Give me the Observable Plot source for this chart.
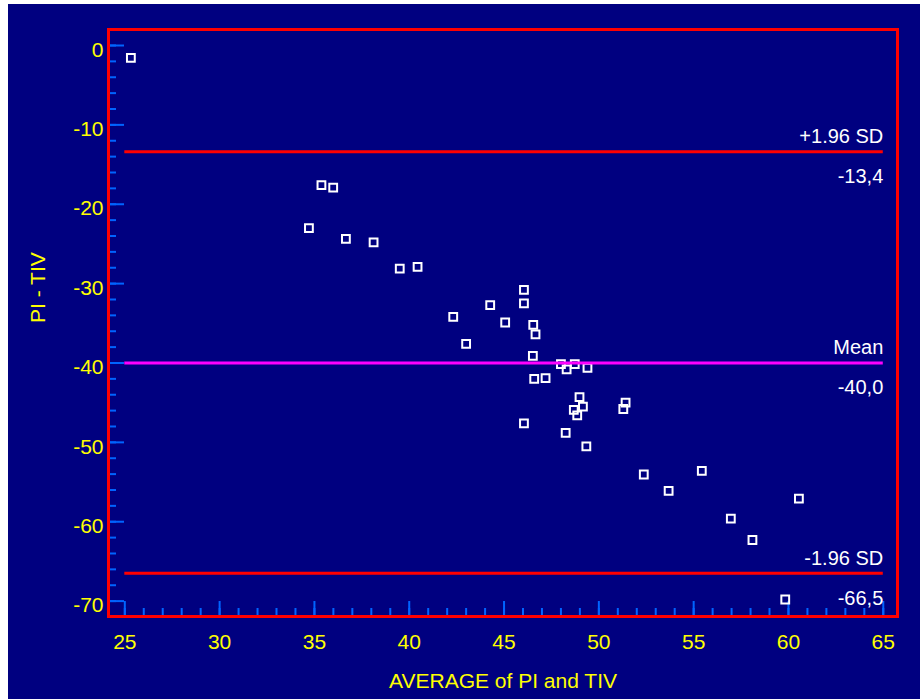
<!DOCTYPE html>
<html>
<head>
<meta charset="utf-8">
<script src="https://cdn.jsdelivr.net/npm/d3@7"></script>
<script src="https://cdn.jsdelivr.net/npm/@observablehq/plot@0.6"></script>
<style>
  html, body { margin: 0; padding: 0; background: #ffffff; }
  #chart { position: absolute; left: 8px; top: 4px; }
</style>
</head>
<body>
<div id="chart"></div>
<script>
// ---- data ----
const avg  = [25.32, 35.37, 35.99, 34.71, 36.66, 38.12, 39.5, 40.44, 46.05, 46.05,
              44.27, 42.32, 45.06, 46.54, 46.66, 43.0, 46.52, 48.0, 48.73, 48.3,
              49.4, 46.59, 47.19, 48.98, 49.16, 48.68, 48.86, 51.41, 51.29, 46.05,
              48.25, 49.34, 52.37, 53.68, 55.43, 56.96, 58.1, 60.55, 59.83];
const diff = [-1.55, -17.6, -17.9, -23.0, -24.36, -24.8, -28.1, -27.9, -30.8, -32.5,
              -32.7, -34.2, -34.9, -35.2, -36.4, -37.6, -39.1, -40.15, -40.15, -40.8,
              -40.6, -42.0, -41.9, -44.3, -45.5, -45.9, -46.6, -45.0, -45.8, -47.6,
              -48.8, -50.5, -54.05, -56.1, -53.6, -59.6, -62.3, -57.1, -69.8];
const lineValues = [-13.4, -40.0, -66.5];
const lineNames  = ["+1.96 SD", "Mean", "-1.96 SD"];
const lineLabels = ["-13,4", "-40,0", "-66,5"];
const xTickLabels = [25, 30, 35, 40, 45, 50, 55, 60, 65];
const yTickLabels = [0, -10, -20, -30, -40, -50, -60, -70];
const xTitle = "AVERAGE of PI and TIV";
const yTitle = "PI - TIV";

// ---- styling ----
const NAVY = "#000080", RED = "#ff0000", MAGENTA = "#ff00ff", BLUE = "#0064ff", YELLOW = "#ffff00";
const lineColors = [RED, MAGENTA, RED];
const W = 912, H = 695, mL = 100, mR = 23, mT = 25, mB = 83;
const FW = W - mL - mR, FH = H - mT - mB;

const points = avg.map((a, i) => ({a, d: diff[i]}));
const lines = lineValues.map((v, i) => ({v, name: lineNames[i], label: lineLabels[i], color: lineColors[i]}));
const xMinor = d3.range(25, 66, 1);
const yMinor = d3.range(0, -71, -2);

const chart = Plot.plot({
  width: W, height: H,
  marginLeft: mL, marginRight: mR, marginTop: mT, marginBottom: mB,
  style: {background: NAVY, fontFamily: "'Liberation Sans', Arial, sans-serif"},
  x: {domain: [24.14, 65.75], axis: null},
  y: {domain: [-71.94, 2.016], axis: null},
  marks: [
    // ticks inside the frame
    Plot.tickY(yMinor, {y: d => d, stroke: BLUE, strokeWidth: 2, insetRight: FW - 8}),
    Plot.tickY(yTickLabels, {y: d => d, stroke: BLUE, strokeWidth: 2, insetRight: FW - 16}),
    Plot.tickX(xMinor, {x: d => d, stroke: BLUE, strokeWidth: 2, insetTop: FH - 8}),
    Plot.tickX(xTickLabels, {x: d => d, stroke: BLUE, strokeWidth: 2, insetTop: FH - 15}),
    // points
    Plot.dot(points, {x: "a", y: "d", symbol: "square", r: 4.4, stroke: "#ffffff", strokeWidth: 2, fill: "none"}),
    // reference lines
    Plot.ruleY(lines, {y: "v", x1: 25, x2: 65, stroke: "color", strokeWidth: 3}),
    Plot.text(lines, {y: "v", x: 65, text: "name", textAnchor: "end", lineAnchor: "middle", dy: -15, fill: "#ffffff", fontSize: 20}),
    Plot.text(lines, {y: "v", x: 65, text: "label", textAnchor: "end", lineAnchor: "middle", dy: 25, fill: "#ffffff", fontSize: 20}),
    // tick labels
    Plot.text(yTickLabels, {y: d => d, text: d => String(d), frameAnchor: "left", textAnchor: "end", lineAnchor: "middle", dx: -5, dy: 4.5, fill: YELLOW, fontSize: 21}),
    Plot.text(xTickLabels, {x: d => d, text: d => String(d), frameAnchor: "bottom", textAnchor: "middle", lineAnchor: "middle", dy: 26, fill: YELLOW, fontSize: 21}),
    // axis titles
    Plot.text([xTitle], {text: d => d, frameAnchor: "bottom", lineAnchor: "middle", dy: 64.5, fill: YELLOW, fontSize: 21}),
    Plot.text([yTitle], {text: d => d, frameAnchor: "left", lineAnchor: "middle", rotate: -90, dx: -70, fill: YELLOW, fontSize: 21}),
    // frame
    Plot.frame({stroke: RED, strokeWidth: 3})
  ]
});
document.getElementById("chart").appendChild(chart);
</script>
</body>
</html>
